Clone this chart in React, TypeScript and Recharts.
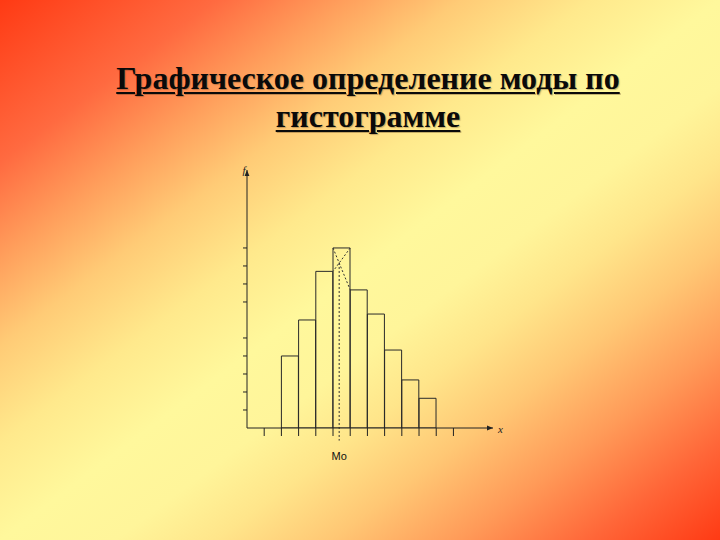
import React from 'react';
import { ComposedChart, Bar, XAxis, YAxis, ReferenceLine, ReferenceDot } from 'recharts';

// Class boundaries (in class-width units along x) and frequencies of each class
const binEdges = [2, 3, 4, 5, 6, 7, 8, 9, 10, 11];
const frequencies = [4, 6, 8.7, 10, 7.67, 6.33, 4.33, 2.67, 1.65];
const xTicks = [1, 2, 3, 4, 5, 6, 7, 8, 9, 10, 11, 12];
const yTicks = [1, 2, 3, 4, 5, 7, 8, 9, 10];
const titleLines = ['Графическое определение моды по', 'гистограмме'];
const modeLabel = 'Mo';

const data = frequencies.map((f, i) => ({ x: (binEdges[i] + binEdges[i + 1]) / 2, f }));

// modal class and its neighbours
const mIdx = frequencies.indexOf(Math.max(...frequencies));
const x0 = binEdges[mIdx];
const x1 = binEdges[mIdx + 1];
const fPrev = frequencies[mIdx - 1];
const fMode = frequencies[mIdx];
const fNext = frequencies[mIdx + 1];
const d1 = fMode - fPrev;
const d2 = fMode - fNext;
const t = d1 / (d1 + d2);
const modeX = x0 + t * (x1 - x0);
const crossY = fMode - t * (fMode - fNext);

const ink = '#222';
const EmptyTick = () => <g />;

export default function App() {
  return (
    <div
      style={{
        position: 'fixed',
        left: 0,
        top: 0,
        width: 720,
        height: 540,
        overflow: 'hidden',
        background:
          'linear-gradient(to bottom right, #FF3A14 0%, #FF6A40 15%, #FF9F5C 24%, #FFCB76 32%, #FFE98C 41%, #FFF89C 50%, #FFF59A 58%, #FFE58A 65%, #FFC774 73%, #FF9A58 82%, #FF6638 91%, #FF3A14 100%)',
      }}
    >
      <div
        style={{
          position: 'absolute',
          left: 0,
          top: 59,
          width: 736,
          textAlign: 'center',
          fontFamily: '"Liberation Serif", "Times New Roman", serif',
          fontWeight: 'bold',
          fontSize: 32,
          lineHeight: '38px',
          color: '#0a0a0a',
          textDecoration: 'underline',
          textDecorationThickness: 2,
          textUnderlineOffset: 3,
          textShadow: '1px 1px 1px rgba(90,60,30,0.35)',
        }}
      >
        {titleLines.map((l) => (
          <div key={l}>{l}</div>
        ))}
      </div>
      <div style={{ position: 'absolute', left: 0, top: 0 }}>
        <ComposedChart
          width={720}
          height={540}
          data={data}
          margin={{ top: 170, right: 227, bottom: 92, left: 227 }}
          barCategoryGap={0}
          barGap={0}
        >
          <defs>
            <marker
              id="arrowHead"
              viewBox="0 0 10 10"
              refX="10"
              refY="5"
              markerWidth="7"
              markerHeight="6"
              markerUnits="userSpaceOnUse"
              orient="auto-start-reverse"
            >
              <path d="M0,1 L10,5 L0,9 z" fill={ink} />
            </marker>
          </defs>
          <XAxis
            dataKey="x"
            type="number"
            domain={[0, 14.3]}
            ticks={xTicks}
            interval={0}
            tick={EmptyTick}
            tickSize={8}
            height={20}
            allowDataOverflow
            axisLine={{ stroke: ink, strokeWidth: 1, markerEnd: 'url(#arrowHead)' }}
            tickLine={{ stroke: ink, strokeWidth: 1 }}
            label={(p: any) => {
              const vb = p.viewBox || {};
              return (
                <text
                  x={(vb.x || 0) + (vb.width || 0) + 5}
                  y={(vb.y || 0) + 5}
                  fontSize={11}
                  fontStyle="italic"
                  fontFamily='"Liberation Serif", serif'
                  fill={ink}
                >
                  x
                </text>
              );
            }}
          />
          <YAxis
            type="number"
            domain={[0, 14.33]}
            ticks={yTicks}
            interval={0}
            tick={EmptyTick}
            tickSize={4}
            width={20}
            allowDataOverflow
            axisLine={{ stroke: ink, strokeWidth: 1, markerStart: 'url(#arrowHead)' }}
            tickLine={{ stroke: ink, strokeWidth: 1 }}
            label={(p: any) => {
              const vb = p.viewBox || {};
              return (
                <text
                  x={(vb.x || 0) + (vb.width || 0) - 3}
                  y={(vb.y || 0) + 4}
                  fontSize={11}
                  fontStyle="italic"
                  fontFamily='"Liberation Serif", serif'
                  fill={ink}
                  textAnchor="middle"
                >
                  f
                </text>
              );
            }}
          />
          <Bar dataKey="f" fill="none" stroke="#2a2a2a" strokeWidth={1} isAnimationActive={false} />
          <ReferenceLine
            segment={[{ x: x0, y: fMode }, { x: x1, y: fNext }]}
            stroke="#333"
            strokeDasharray="2 2"
            ifOverflow="visible"
          />
          <ReferenceLine
            segment={[{ x: x1, y: fMode }, { x: x0, y: fPrev }]}
            stroke="#333"
            strokeDasharray="2 2"
            ifOverflow="visible"
          />
          <ReferenceLine
            segment={[{ x: modeX, y: crossY }, { x: modeX, y: -0.7 }]}
            stroke="#333"
            strokeDasharray="2 2"
            ifOverflow="visible"
          />
          <ReferenceDot
            x={modeX}
            y={0}
            r={0}
            fill="none"
            stroke="none"
            ifOverflow="visible"
            label={{
              value: modeLabel,
              position: 'bottom',
              offset: 24,
              fill: '#111',
              fontSize: 11,
              fontFamily: '"Liberation Sans", Arial, sans-serif',
            }}
          />
        </ComposedChart>
      </div>
    </div>
  );
}
